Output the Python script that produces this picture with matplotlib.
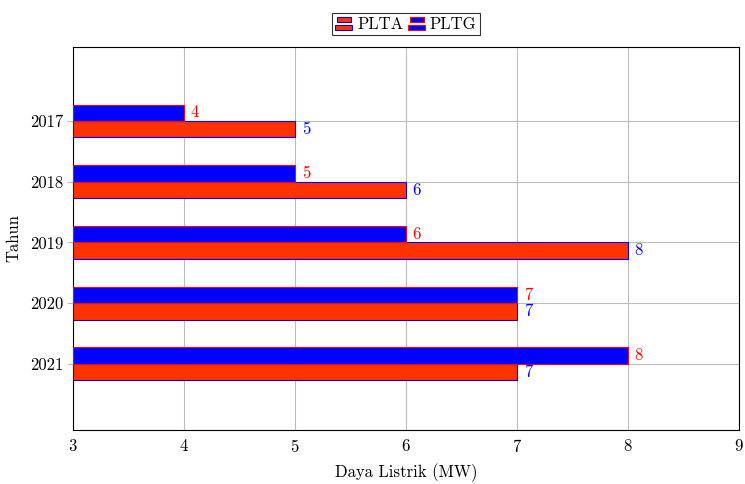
import matplotlib
matplotlib.use("Agg")
import matplotlib.pyplot as plt
from matplotlib.legend_handler import HandlerBase
from matplotlib.patches import Rectangle
import numpy as np

plt.rcParams["font.family"] = ["cmr10", "DejaVu Serif"]
plt.rcParams["axes.formatter.use_mathtext"] = True
plt.rcParams["mathtext.fontset"] = "cm"

years = [2017, 2018, 2019, 2020, 2021]
plta = [5, 6, 8, 7, 7]
pltg = [4, 5, 6, 7, 8]

fill_red = "#ff3300"
line_red = "#ff0000"
blue = "#0000ff"


class TwoBarHandler(HandlerBase):
    # pgfplots-style xbar legend icon: two small stacked bars
    def create_artists(self, legend, orig_handle, xdescent, ydescent,
                       width, height, fontsize, trans):
        fc = orig_handle.get_facecolor()
        ec = orig_handle.get_edgecolor()
        bh = height * 0.36
        r1 = Rectangle((-xdescent + width * 0.08, -ydescent + height * 0.58),
                       width * 0.84, bh,
                       facecolor=fc, edgecolor=ec, linewidth=0.8, transform=trans)
        r2 = Rectangle((-xdescent, -ydescent + height * 0.05), width, bh,
                       facecolor=fc, edgecolor=ec, linewidth=0.8, transform=trans)
        return [r1, r2]


fig = plt.figure(figsize=(7.45, 4.84), dpi=100)
ax = fig.add_axes([0.098, 0.1116, 0.894, 0.7914])

y = np.array(years, dtype=float)
h = 0.27
b1 = ax.barh(y + h / 2, np.array(plta) - 3, left=3, height=h, color=fill_red,
             edgecolor=blue, linewidth=0.8, label="PLTA", zorder=3)
b2 = ax.barh(y - h / 2, np.array(pltg) - 3, left=3, height=h, color=blue,
             edgecolor=line_red, linewidth=0.8, label="PLTG", zorder=3)

for yy, v in zip(y, plta):
    ax.text(v + 0.06, yy + h / 2, str(v), color=blue, fontsize=12,
            va="center", ha="left")
for yy, v in zip(y, pltg):
    ax.text(v + 0.06, yy - h / 2, str(v), color=line_red, fontsize=12,
            va="center", ha="left")

ax.set_xlim(3, 9)
ax.set_ylim(2021 + 1.09, 2017 - 1.22)
ax.set_yticks(years)
ax.set_yticklabels([str(v) for v in years])
ax.set_xticks(range(3, 10))
ax.tick_params(labelsize=12)
ax.tick_params(axis="x", length=0, pad=6)
ax.tick_params(axis="y", length=4, color="#bdbdbd", width=0.8, pad=3)
ax.grid(True, color="#bdbdbd", linewidth=0.8, zorder=0)
ax.set_axisbelow(True)
for s in ax.spines.values():
    s.set_linewidth(0.8)

ax.set_xlabel("Daya Listrik (MW)", fontsize=12, labelpad=6)
ax.set_ylabel("Tahun", fontsize=12, labelpad=6)

leg = ax.legend(handles=[b1[0], b2[0]], labels=["PLTA", "PLTG"],
                handler_map={type(b1[0]): TwoBarHandler()},
                loc="lower center", bbox_to_anchor=(0.5, 1.03),
                ncol=2, fontsize=12, frameon=True, fancybox=False,
                edgecolor="black", handlelength=1.0, handleheight=0.9,
                handletextpad=0.3, columnspacing=0.3, borderpad=0.2,
                borderaxespad=0)
leg.get_frame().set_linewidth(0.8)

fig.savefig("out.png", dpi=100)
